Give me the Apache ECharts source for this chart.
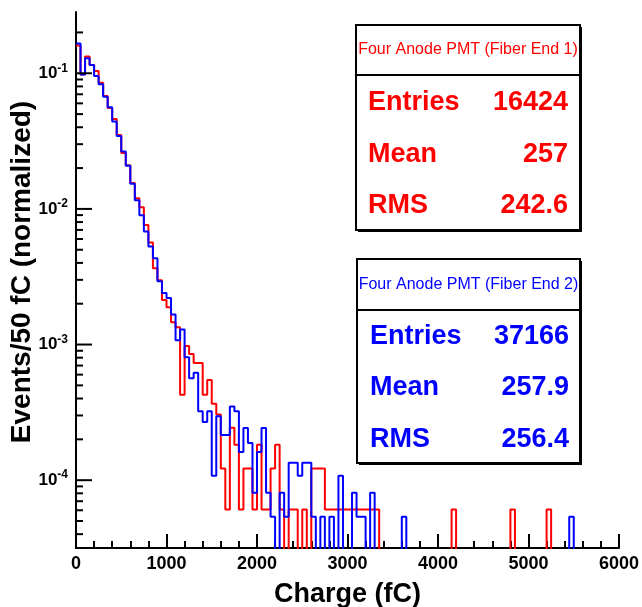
<!DOCTYPE html>
<html><head><meta charset="utf-8">
<script src="https://cdn.jsdelivr.net/npm/echarts@6/dist/echarts.min.js"></script>
<style>html,body{margin:0;padding:0;background:#fff}#c{width:642px;height:607px}</style>
</head><body><div id="c"></div>
<script>
// ---- data ----
const binWidth = 50;              // fC per bin
const xMin = 0, xMax = 6000;
const yMin = Math.pow(10, -4.5), yMax = 0.283;

const xTitle = 'Charge (fC)';
const yTitle = 'Events/50 fC (normalized)';
const redTitle = 'Four Anode PMT (Fiber End 1)';
const blueTitle = 'Four Anode PMT (Fiber End 2)';
const statLabels = ['Entries', 'Mean', 'RMS'];
const redStatValues = ['16424', '257', '242.6'];
const blueStatValues = ['37166', '257.9', '256.4'];
const redEntries = 16424;
const blueEntries = 37166;

// counts per 50 fC bin, starting at 0 fC
const redCounts = [
  2628,1610,2184,1889,1708,1396,1117,912,755,575,
  425,345,255,197,169,125,93,60,49,35,
  31,24,22,7,16,14,12,12,7,9,
  6,5,2,1,4,3,1,2,2,1,
  3,1,1,2,3,1,0,1,1,0,
  1,0,2,2,2,1,1,1,1,1,
  1,1,1,1,1,1,1,0,0,0,
  0,0,0,0,0,0,0,0,0,0,
  0,0,0,1,0,0,0,0,0,0,
  0,0,0,0,0,0,1,0,0,0,
  0,0,0,0,1,0,0,0,0,0,
  0,0,0,0,0,0,0,0,0,0
];
const blueCounts = [
  6170,3642,4794,4274,3549,3085,2498,2089,1639,1282,
  985,773,569,431,334,253,196,161,109,89,
  82,62,40,48,30,21,23,12,10,12,
  4,11,8,8,13,12,6,9,7,3,
  6,9,3,2,1,3,2,5,5,4,
  5,5,2,1,2,0,2,0,4,0,
  0,3,2,2,0,3,0,0,0,0,
  0,0,2,0,0,0,0,0,0,0,
  0,0,0,0,0,0,0,0,0,0,
  0,0,0,0,0,0,0,0,0,0,
  0,0,0,0,0,0,0,0,0,2,
  0,0,0,0,0,0,0,0,0,0
];

const yMajorTicks = [1e-4, 1e-3, 1e-2, 1e-1];
const yMinorTicks = [
  4e-5,5e-5,6e-5,7e-5,8e-5,9e-5,
  2e-4,3e-4,4e-4,5e-4,6e-4,7e-4,8e-4,9e-4,
  2e-3,3e-3,4e-3,5e-3,6e-3,7e-3,8e-3,9e-3,
  2e-2,3e-2,4e-2,5e-2,6e-2,7e-2,8e-2,9e-2,
  2e-1
];

// ---- build ----
const FLOOR = 1e-7; // empty bins drawn below the axis (clipped)
function histData(counts, entries) {
  const pts = counts.map((c, k) => [k * binWidth, c > 0 ? c / entries : FLOOR]);
  pts.push([counts.length * binWidth, FLOOR]);
  return pts;
}

const FONT = 'Liberation Sans';
const chart = echarts.init(document.getElementById('c'), null, {renderer: 'canvas'});

function tickSeries(values, len) {
  return {
    type: 'custom',
    silent: true,
    z: 5,
    clip: false,
    data: values.map(v => [xMin, v]),
    encode: {x: 0, y: 1},
    renderItem: function (params, api) {
      const p = api.coord([api.value(0), api.value(1)]);
      return {
        type: 'line',
        shape: {x1: p[0], y1: p[1], x2: p[0] + len, y2: p[1]},
        style: {stroke: '#000', lineWidth: 2}
      };
    }
  };
}

function statBox(x, y, w, hTitle, h, color, title, values, rowYs, labelX, valueX) {
  const els = [];
  els.push({type: 'rect', shape: {x: x + 2, y: y + 2, width: w, height: h}, style: {fill: '#000'}, z: 10});
  els.push({type: 'rect', shape: {x: x, y: y, width: w, height: h}, style: {fill: '#fff', stroke: '#000', lineWidth: 2}, z: 11});
  els.push({type: 'line', shape: {x1: x, y1: y + hTitle, x2: x + w, y2: y + hTitle}, style: {stroke: '#000', lineWidth: 2}, z: 12});
  els.push({type: 'text', x: x + w / 2, y: y + hTitle / 2, z: 12,
    style: {text: title, fill: color, font: '16px "' + FONT + '"', align: 'center', verticalAlign: 'middle'}});
  statLabels.forEach((lab, i) => {
    els.push({type: 'text', x: labelX, y: rowYs[i], z: 12,
      style: {text: lab, fill: color, font: 'bold 27px "' + FONT + '"', align: 'left', verticalAlign: 'middle'}});
    els.push({type: 'text', x: valueX, y: rowYs[i], z: 12,
      style: {text: values[i], fill: color, font: 'bold 27px "' + FONT + '"', align: 'right', verticalAlign: 'middle'}});
  });
  return els;
}

const option = {
  animation: false,
  backgroundColor: '#fff',
  grid: {left: 76, right: 23, top: 12, bottom: 59, outerBoundsMode: 'none', containLabel: false},
  xAxis: {
    type: 'value', min: xMin, max: xMax, interval: 1000,
    name: xTitle, nameLocation: 'middle', nameGap: 33,
    nameTextStyle: {fontFamily: FONT, fontWeight: 'bold', fontSize: 27, color: '#000'},
    axisLine: {show: true, lineStyle: {color: '#000', width: 2}},
    axisTick: {show: true, inside: true, length: 14, lineStyle: {color: '#000', width: 2}},
    minorTick: {show: true, splitNumber: 5, length: 7, lineStyle: {color: '#000', width: 2}},
    splitLine: {show: false},
    axisLabel: {fontFamily: FONT, fontWeight: 'bold', fontSize: 18, color: '#000', margin: 7,
      formatter: function (v) { return String(v); }}
  },
  yAxis: {
    type: 'log', logBase: 10, min: yMin, max: yMax,
    axisLine: {show: true, lineStyle: {color: '#000', width: 2}},
    axisTick: {show: false},
    splitLine: {show: false},
    axisLabel: {
      margin: 8, color: '#000',
      showMinLabel: false, showMaxLabel: false,
      formatter: function (v) {
        const l = Math.log10(v);
        const e = Math.round(l);
        if (Math.abs(l - e) > 1e-6) return '';
        return '{b|10}{s|' + e + '}';
      },
      rich: {
        b: {fontFamily: FONT, fontWeight: 'bold', fontSize: 17, color: '#000'},
        s: {fontFamily: FONT, fontWeight: 'bold', fontSize: 12, color: '#000', padding: [0, 0, 10, 0]}
      }
    }
  },
  series: [
    {type: 'line', name: 'End 1', step: 'end', symbol: 'none', clip: true, z: 2,
     data: histData(redCounts, redEntries), lineStyle: {color: '#ff0000', width: 2}, itemStyle: {color: '#ff0000'}},
    {type: 'line', name: 'End 2', step: 'end', symbol: 'none', clip: true, z: 3,
     data: histData(blueCounts, blueEntries), lineStyle: {color: '#0000ff', width: 2}, itemStyle: {color: '#0000ff'}},
    tickSeries(yMajorTicks, 16),
    tickSeries(yMinorTicks, 7)
  ],
  graphic: [].concat(
    [{type: 'text', x: 22, y: 272, rotation: Math.PI / 2, z: 12,
      style: {text: yTitle, fill: '#000', font: 'bold 28px "' + FONT + '"', align: 'center', verticalAlign: 'middle'}}],
    statBox(356, 25, 224, 50, 205, '#ff0000', redTitle, redStatValues, [103, 155, 206], 368, 568),
    statBox(357, 259, 223, 51, 204, '#0000ff', blueTitle, blueStatValues, [337, 388, 440], 370, 569)
  )
};
chart.setOption(option);
</script>
</body></html>
